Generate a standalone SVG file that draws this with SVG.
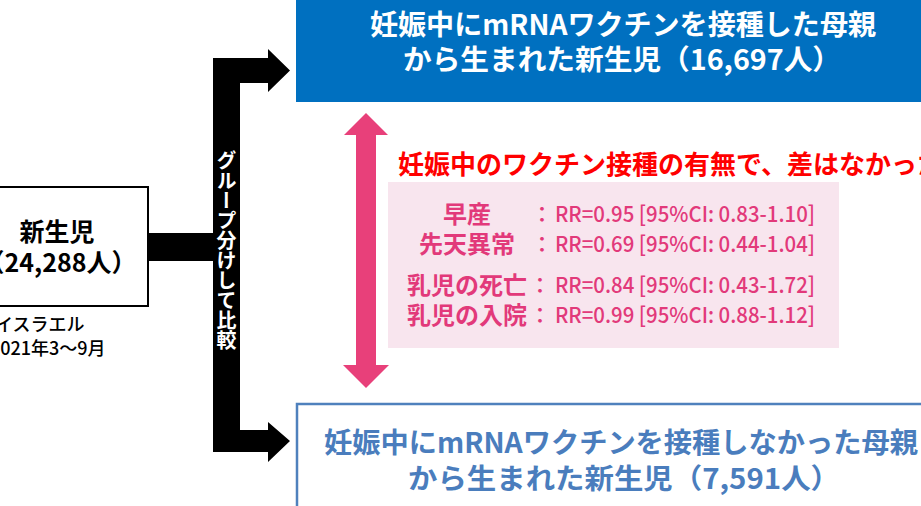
<svg xmlns="http://www.w3.org/2000/svg" width="921" height="506" viewBox="0 0 921 506">
<style>
text{font-family:"Noto Sans CJK JP","Noto Sans",sans-serif;dominant-baseline:central}
.lbl{font-size:25px;font-weight:700;fill:#000}
.note{font-size:18px;font-weight:500;fill:#000}
.w{font-size:28px;font-weight:700;fill:#fff}
.b{font-size:28px;font-weight:700;fill:#4a7dbd}
.red{font-size:26px;font-weight:700;fill:#ff0000}
.pk{font-size:24px;font-weight:700;fill:#e2397a;text-anchor:middle}
.val{font-size:22px;font-weight:500;fill:#e2397a}
.vt{font-size:20px;font-weight:700;fill:#fff;writing-mode:vertical-rl}
</style>
<rect width="921" height="506" fill="#fff"/>
<g id="connectors">
<path d="M148 233H213V58H268V49L290 70.5L268 92V83H240V430H268V422L290 441L268 462V452H213V261H148Z" fill="#000"/>
<path d="M366 113L388 135H376V365H389L366 388L343 365H356V135H344Z" fill="#e8407a"/>
<text class="vt" x="226.5" y="150">グループ分けして比較</text>
</g>
<g id="node-newborn">
<rect x="-20" y="187" width="168" height="119" fill="#fff" stroke="#000" stroke-width="2"/>
<text class="lbl" x="57" y="230" text-anchor="middle">新生児</text>
<text class="lbl" x="58" y="261" text-anchor="middle">（24,288人）</text>
<text class="note" x="-5" y="323">イスラエル</text>
<text class="note" x="-10" y="347">2021年3～9月</text>
</g>
<g id="node-vaccinated">
<rect x="296" y="-5" width="640" height="107" fill="#0070c0"/>
<text class="w" x="370" y="23" textLength="506" lengthAdjust="spacingAndGlyphs">妊娠中にmRNAワクチンを接種した母親</text>
<text class="w" x="403" y="58" textLength="438" lengthAdjust="spacingAndGlyphs">から生まれた新生児（16,697人）</text>
</g>
<g id="node-unvaccinated">
<rect x="297" y="404" width="640" height="120" fill="#fff" stroke="#4f81bd" stroke-width="2.5"/>
<text class="b" x="324" y="441" textLength="594" lengthAdjust="spacingAndGlyphs">妊娠中にmRNAワクチンを接種しなかった母親</text>
<text class="b" x="408" y="477" textLength="432" lengthAdjust="spacingAndGlyphs">から生まれた新生児（7,591人）</text>
</g>
<g id="node-result">
<text class="red" x="398" y="162">妊娠中のワクチン接種の有無で、差はなかった</text>
<rect x="388" y="182" width="451" height="166" fill="#f8e5ee"/>
<text class="pk" x="467" y="212">早産</text>
<text class="pk" x="467" y="242">先天異常</text>
<text class="pk" x="467" y="283">乳児の死亡</text>
<text class="pk" x="467" y="313">乳児の入院</text>
<text class="val" x="542" y="212" text-anchor="middle">：</text>
<text class="val" x="542" y="242" text-anchor="middle">：</text>
<text class="val" x="540" y="283" text-anchor="middle">：</text>
<text class="val" x="540" y="313" text-anchor="middle">：</text>
<text class="val" x="555" y="212" textLength="260" lengthAdjust="spacingAndGlyphs">RR=0.95 [95%CI: 0.83-1.10]</text>
<text class="val" x="555" y="242" textLength="260" lengthAdjust="spacingAndGlyphs">RR=0.69 [95%CI: 0.44-1.04]</text>
<text class="val" x="555" y="283" textLength="260" lengthAdjust="spacingAndGlyphs">RR=0.84 [95%CI: 0.43-1.72]</text>
<text class="val" x="555" y="313" textLength="260" lengthAdjust="spacingAndGlyphs">RR=0.99 [95%CI: 0.88-1.12]</text>
</g>
</svg>
